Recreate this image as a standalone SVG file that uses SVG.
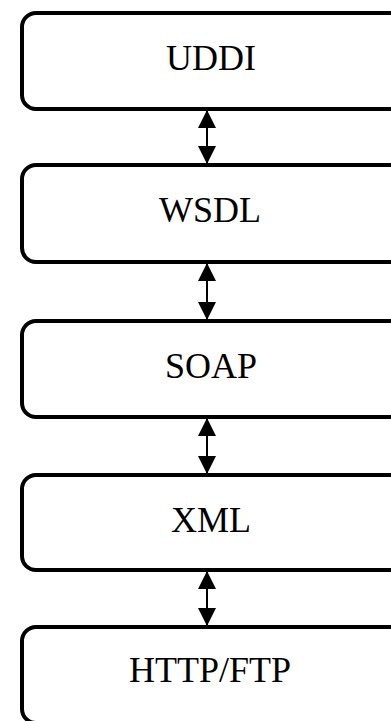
<svg xmlns="http://www.w3.org/2000/svg" width="391" height="721" viewBox="0 0 391 721">
<style>
.box{fill:#fff;stroke:#000;stroke-width:4}
.lbl{font-family:"Liberation Serif","Times New Roman",serif;font-size:36px;fill:#000;text-anchor:middle}
.conn{stroke:#000;stroke-width:2;fill:none}
.head{fill:#000}
</style>
<rect width="391" height="721" fill="#fff"/>
<g id="uddi"><rect class="box" x="22" y="13" width="386" height="96" rx="14"/><text class="lbl" x="211" y="70">UDDI</text></g>
<g id="wsdl"><rect class="box" x="22" y="165" width="386" height="97" rx="14"/><text class="lbl" x="210" y="222">WSDL</text></g>
<g id="soap"><rect class="box" x="22" y="321" width="386" height="96" rx="14"/><text class="lbl" x="211" y="378">SOAP</text></g>
<g id="xml"><rect class="box" x="22" y="475" width="386" height="95" rx="14"/><text class="lbl" x="211" y="532">XML</text></g>
<g id="httpftp"><rect class="box" x="22" y="627" width="386" height="96" rx="14"/><text class="lbl" x="210" y="682">HTTP/FTP</text></g>
<g id="connectors">
<path class="conn" d="M207 111V163"/>
<path class="head" d="M207 110L198 128H216Z M207 164L198 146H216Z"/>
<path class="conn" d="M207 264V319"/>
<path class="head" d="M207 263L198 281H216Z M207 320L198 302H216Z"/>
<path class="conn" d="M207 419V473"/>
<path class="head" d="M207 418L198 436H216Z M207 474L198 456H216Z"/>
<path class="conn" d="M207 572V625"/>
<path class="head" d="M207 571L198 589H216Z M207 626L198 608H216Z"/>
</g>
</svg>
